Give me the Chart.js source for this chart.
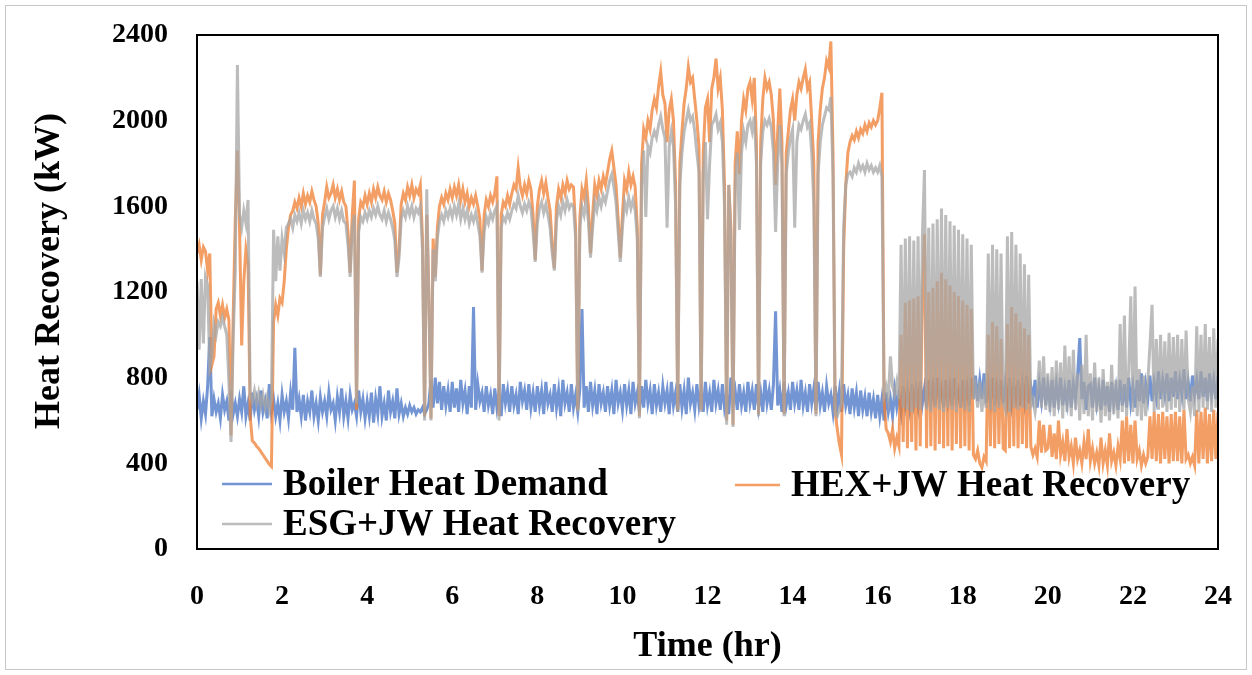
<!DOCTYPE html>
<html>
<head>
<meta charset="utf-8">
<title>Heat Recovery</title>
<script src="https://cdn.jsdelivr.net/npm/chart.js"></script>
<style>
body { margin: 0; background: #fff; }
#wrap { position: relative; width: 1252px; height: 675px; }
</style>
</head>
<body>
<div id="wrap"><canvas id="heatChart" width="1252" height="675"></canvas></div>
<script>
// one sample every 0.05 hr, 0 -> 24 hr
const sampleStepHr = 0.05;

const boilerDemand = [
  650,720,610,690,630,760,990,620,700,640,680,610,720,650,690,600,740,630,680,620,   // 0 h
  700,640,760,620,680,600,730,650,700,620,740,640,690,610,770,640,700,620,680,600,   // 1 h
  720,640,690,610,730,650,940,640,700,620,720,600,690,640,740,620,680,600,710,640,   // 2 h
  690,620,730,650,680,600,710,640,750,620,690,610,720,650,680,620,740,640,700,610,   // 3 h
  690,620,730,590,700,630,760,620,680,600,740,640,690,610,750,630,680,620,660,630,   // 4 h
  670,640,660,630,650,640,660,630,650,680,790,660,800,680,780,650,760,670,740,640,   // 5 h
  780,660,750,640,790,680,740,630,760,660,1130,650,770,690,730,640,760,670,720,630,  // 6 h
  750,660,730,620,770,680,740,640,760,670,720,630,780,690,740,650,770,660,730,640,   // 7 h
  760,670,740,630,780,680,720,640,770,660,740,620,790,680,730,640,770,660,720,640,   // 8 h
  750,1120,660,760,640,780,670,740,630,770,680,730,640,760,670,740,630,790,680,730,  // 9 h
  650,770,670,740,630,780,680,730,640,760,660,790,680,740,630,770,670,730,640,760,   // 10 h
  680,740,630,780,670,730,640,770,660,740,630,800,680,730,650,770,670,740,640,780,   // 11 h
  670,730,640,790,680,740,650,770,660,720,630,800,680,740,650,770,670,730,640,780,   // 12 h
  680,740,650,770,660,730,640,790,680,740,650,770,1110,670,740,640,780,670,730,650,  // 13 h
  780,680,740,650,790,670,730,640,770,680,750,650,780,670,730,640,760,680,720,640,   // 14 h
  760,660,740,640,770,670,720,630,750,660,730,620,740,650,710,620,730,640,700,610,   // 15 h
  720,620,700,600,730,640,700,620,740,660,720,640,760,670,740,660,770,680,750,670,   // 16 h
  780,680,750,660,790,690,760,670,800,700,750,660,790,690,760,670,800,700,740,660,   // 17 h
  790,690,760,670,800,700,810,690,790,700,820,680,770,690,800,670,760,700,790,680,   // 18 h
  770,690,800,680,760,700,790,670,770,690,810,680,760,700,790,660,770,690,800,670,   // 19 h
  760,680,790,660,770,690,800,670,750,680,790,660,770,700,810,985,700,780,650,760,   // 20 h
  770,660,800,680,750,650,790,670,760,640,780,680,750,650,790,670,770,660,800,680,   // 21 h
  760,660,790,690,820,680,770,700,810,690,780,710,830,700,790,720,820,690,800,710,   // 22 h
  830,700,790,720,840,700,780,690,810,720,790,700,830,710,800,690,820,720,790,700,   // 23 h
  810
];

const hexRecovery = [
  1380,1420,1350,1410,1390,1300,1380,860,900,1120,1150,1090,1140,1080,1120,1070,530,1080,1540,1860,
  1500,950,1250,1400,1330,620,505,495,480,470,455,440,425,410,395,385,1060,1140,1090,1170,
  1150,1250,1400,1500,1560,1580,1620,1590,1640,1600,1660,1610,1650,1620,1670,1630,1600,1520,1280,1560,
  1620,1690,1640,1660,1700,1640,1680,1630,1670,1620,1600,1480,1290,1560,1720,650,1540,1620,1600,1650,
  1610,1660,1620,1680,1640,1690,1650,1630,1670,1620,1660,1630,1580,1520,1290,1400,1610,1660,1630,1690,
  1650,1700,1640,1680,1660,1700,1450,620,1560,1200,610,1450,1270,1500,1600,1640,1610,1660,1630,1680,
  1640,1690,1650,1700,1630,1680,1620,1660,1600,1640,1610,1650,1600,1540,1300,1560,1630,1600,1650,1620,
  1660,1740,620,1560,1620,1600,1650,1610,1660,1700,1680,1780,1690,1650,1700,1660,1720,1680,1560,1350,
  1600,1680,1720,1660,1710,1640,1580,1420,1310,1600,1680,1640,1700,1660,1720,1680,1700,1690,1500,650,
  1550,1680,1640,1720,1600,1380,1560,1700,1650,1720,1680,1740,1700,1760,1820,1860,1780,1700,1540,1360,
  1560,1720,1680,1760,1700,1740,1690,1500,620,1800,1960,1920,2000,1960,2050,2100,2060,2160,2230,2120,
  2080,1900,2050,2100,2000,1700,650,1800,1950,2080,2150,2250,2180,2200,2100,2000,1880,650,1850,2060,
  2100,1900,2150,2200,2290,2150,2200,2050,1700,600,1700,1500,580,1800,1950,1750,2000,2100,2050,2150,
  2180,2100,2200,1900,630,1900,2100,2200,2150,2180,2120,2000,1700,1950,2150,1900,630,1850,1950,2050,
  2100,2000,2120,2180,2150,2200,2240,2150,2180,2000,1800,630,1900,2050,2150,2200,2280,2250,2370,1850,
  640,560,490,440,1400,1700,1850,1900,1930,1910,1950,1920,1960,1940,1980,1950,1990,1970,2000,1980,
  2000,2060,2130,700,560,540,500,560,470,520,480,1000,500,1150,470,1160,500,1170,460,1180,
  480,1170,1470,470,1200,480,1220,460,1250,490,1290,470,1260,480,1230,460,1200,490,1180,470,
  1160,480,1140,460,1120,440,420,460,400,380,430,410,1000,480,1060,470,1040,490,980,470,
  460,1050,470,1130,480,1100,470,1060,490,1030,470,1000,480,440,470,430,600,450,580,460,
  470,580,430,540,420,600,440,500,410,560,430,480,400,520,420,460,400,500,420,560,
  410,470,400,450,390,520,400,460,390,540,410,450,390,480,420,600,400,620,410,580,
  400,600,420,460,390,440,400,430,620,420,640,410,630,400,640,420,620,400,630,410,
  640,410,620,400,650,420,440,400,430,390,650,400,640,420,660,400,630,410,650,420,
  640
];

const esgRecovery = [
  1250,930,1260,960,1270,1230,850,900,1050,1000,1060,1040,1080,1040,1000,780,500,980,1300,2260,
  1560,1500,1580,1520,1630,720,690,740,680,730,670,720,660,710,650,700,1490,1250,1460,1300,
  1450,1380,1500,1520,1540,1500,1560,1530,1570,1520,1580,1540,1570,1530,1580,1540,1520,1450,1270,1500,
  1550,1590,1540,1580,1600,1550,1590,1540,1580,1530,1520,1420,1270,1500,1560,680,1480,1550,1530,1570,
  1540,1580,1550,1590,1560,1600,1560,1540,1580,1530,1570,1540,1500,1440,1270,1360,1540,1580,1550,1600,
  1560,1600,1550,1590,1570,1600,1400,600,1680,1150,600,1400,1250,1450,1530,1560,1530,1580,1550,1590,
  1550,1600,1560,1610,1540,1590,1540,1580,1520,1560,1530,1570,1520,1460,1290,1480,1550,1520,1570,1540,
  1580,1600,600,1500,1550,1530,1570,1540,1580,1610,1590,1650,1600,1570,1610,1580,1620,1590,1480,1340,
  1520,1590,1620,1570,1610,1560,1500,1380,1300,1530,1600,1560,1620,1580,1630,1590,1610,1600,1450,640,
  1500,1600,1560,1630,1530,1360,1500,1620,1580,1640,1600,1650,1620,1670,1720,1750,1690,1620,1480,1340,
  1500,1620,1580,1640,1590,1630,1580,1450,610,1700,1860,1550,1880,1850,1920,1950,1920,1980,2020,1960,
  1920,1500,1880,1950,1880,1600,640,1700,1850,1950,2000,2050,2000,2020,1950,1850,1760,640,1750,1900,
  1540,1800,1980,2000,2030,1960,1990,1900,1600,580,1700,1450,570,1700,1850,1490,1850,1950,1900,1980,
  2000,1950,2020,1800,620,1800,1950,2000,1980,2010,1970,1850,1480,1800,1980,1800,620,1750,1850,1920,
  1960,1500,1900,1980,1960,2000,2030,1970,1990,1850,1600,620,1750,1900,1980,2020,2060,2050,2110,1750,
  630,620,650,680,1500,1700,1750,1760,1740,1780,1760,1800,1770,1790,1760,1800,1770,1790,1760,1780,
  1760,1790,1740,720,760,700,900,760,720,780,700,1420,660,1450,650,1460,640,1440,660,1460,
  650,1450,1770,650,1500,640,1520,660,1540,650,1590,640,1560,660,1530,650,1510,640,1490,660,
  1470,650,1450,640,1420,700,760,660,780,640,740,660,1380,650,1420,640,1400,660,1380,680,
  650,1460,640,1480,660,1420,650,1380,660,1330,650,1280,670,700,640,720,880,660,900,650,
  820,640,850,620,880,650,870,610,950,640,900,620,930,650,820,600,860,630,1000,620,
  820,600,870,640,800,590,840,620,780,600,860,630,790,610,1050,640,1090,620,830,1180,
  640,1225,620,840,600,810,620,780,950,1140,640,980,650,1000,660,970,640,1010,650,990,
  660,1000,640,980,650,1020,700,640,760,620,1040,640,1000,660,1050,650,990,640,1030,660,
  980
];

const xTickStep = 2;
const yTickStep = 400;

const hours = boilerDemand.map((_, i) => +(i * sampleStepHr).toFixed(2));
const toPoints = vals => vals.map((v, i) => ({ x: hours[i], y: v }));

const serif = "'Liberation Serif', 'Times New Roman', serif";

// legend sits inside the plot, two columns like the original
const legendItems = [
  { ds: 2, x: 222, y: 484, len: 50 },
  { ds: 1, x: 735, y: 485, len: 45 },
  { ds: 0, x: 222, y: 524, len: 50 }
];

const decor = {
  id: 'decor',
  beforeDraw(chart) {
    const ctx = chart.ctx;
    ctx.save();
    ctx.fillStyle = '#fff';
    ctx.fillRect(0, 0, chart.width, chart.height);
    ctx.strokeStyle = '#c8c8c8';
    ctx.lineWidth = 1;
    ctx.strokeRect(5.5, 5.5, chart.width - 11, chart.height - 11);
    ctx.restore();
  },
  afterDraw(chart) {
    const { ctx, chartArea: a } = chart;
    ctx.save();
    ctx.strokeStyle = '#000';
    ctx.lineWidth = 2;
    ctx.strokeRect(a.left, a.top, a.right - a.left, a.bottom - a.top);

    ctx.fillStyle = '#000';
    ctx.font = 'bold 37px ' + serif;
    ctx.textBaseline = 'middle';
    legendItems.forEach(it => {
      const ds = chart.data.datasets[it.ds];
      ctx.strokeStyle = ds.borderColor;
      ctx.lineWidth = 2.5;
      ctx.beginPath();
      ctx.moveTo(it.x, it.y);
      ctx.lineTo(it.x + it.len, it.y);
      ctx.stroke();
      ctx.textAlign = 'left';
      ctx.fillText(ds.label, it.x + it.len + 11, it.y + 1);
    });

    ctx.font = 'bold 36px ' + serif;
    ctx.textAlign = 'center';
    ctx.fillText('Time (hr)', (a.left + a.right) / 2, 647);
    ctx.translate(50, 271);
    ctx.rotate(-Math.PI / 2);
    ctx.fillText('Heat Recovery (kW)', 0, 0);
    ctx.restore();
  }
};

new Chart(document.getElementById('heatChart'), {
  type: 'line',
  data: {
    datasets: [
      { label: 'ESG+JW Heat Recovery', data: toPoints(esgRecovery), borderColor: 'rgba(165,165,165,0.75)', order: 0 },
      { label: 'HEX+JW Heat Recovery', data: toPoints(hexRecovery), borderColor: 'rgba(237,125,49,0.75)', order: 1 },
      { label: 'Boiler Heat Demand', data: toPoints(boilerDemand), borderColor: 'rgba(68,114,196,0.75)', order: 2 }
    ]
  },
  options: {
    responsive: false,
    animation: false,
    events: [],
    layout: { padding: { left: 0, right: 34, top: 35, bottom: 0 } },
    elements: {
      point: { radius: 0 },
      line: { borderWidth: 3, tension: 0, fill: false }
    },
    plugins: {
      legend: { display: false },
      tooltip: { enabled: false }
    },
    scales: {
      x: {
        type: 'linear',
        min: 0,
        max: 24,
        grid: { display: false, drawTicks: false },
        border: { display: false },
        ticks: {
          stepSize: xTickStep,
          padding: 31,
          maxRotation: 0,
          autoSkip: false,
          color: '#000',
          font: { family: serif, size: 28, weight: 'bold' },
          callback: v => String(v)
        },
        // fixed band below the plot; label overhang must not push the plot in
        afterFit(s) {
          s.height = 126;
          s.paddingLeft = 0;
          s.paddingRight = 0;
        }
      },
      y: {
        min: 0,
        max: 2400,
        grid: { display: false, drawTicks: false },
        border: { display: false },
        ticks: {
          stepSize: yTickStep,
          padding: 29,
          color: '#000',
          font: { family: serif, size: 28, weight: 'bold' },
          callback: v => String(v)
        },
        afterFit(s) {
          s.width = 197;
          s.paddingTop = 0;
          s.paddingBottom = 0;
        }
      }
    }
  },
  plugins: [decor]
});
</script>
</body>
</html>
